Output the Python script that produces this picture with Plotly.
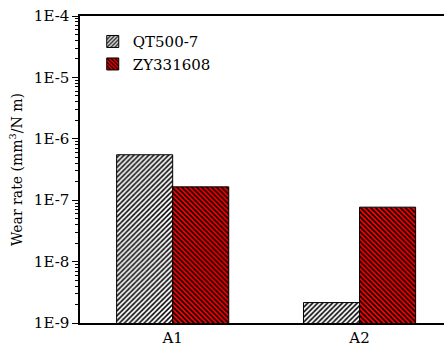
import plotly.graph_objects as go

categories = ["A1", "A2"]
qt500_7 = [5.5e-7, 2.15e-9]
zy331608 = [1.65e-7, 7.7e-8]
tick_vals = [1e-9, 1e-8, 1e-7, 1e-6, 1e-5, 1e-4]
tick_text = ["1E-9", "1E-8", "1E-7", "1E-6", "1E-5", "1E-4"]

FONT = "DejaVu Serif, Liberation Serif, serif"
SERIF = dict(family=FONT, size=15, color="black")

fig = go.Figure()
fig.add_trace(go.Bar(
    name="QT500-7", x=categories, y=qt500_7,
    marker=dict(color="white", line=dict(color="black", width=1),
                pattern=dict(shape="/", fgcolor="black", bgcolor="white",
                             size=3.5, solidity=0.45)),
))
fig.add_trace(go.Bar(
    name="ZY331608", x=categories, y=zy331608,
    marker=dict(color="#ff0000", line=dict(color="black", width=1),
                pattern=dict(shape="\\", fgcolor="black", bgcolor="#ff0000",
                             size=3.5, solidity=0.45)),
))

fig.update_layout(template="none")
fig.update_layout(
    width=444, height=352,
    margin=dict(l=80, r=0, t=16, b=29),
    barmode="group", bargap=0.4, bargroupgap=0,
    plot_bgcolor="white", paper_bgcolor="white",
    font=SERIF,
    showlegend=True,
    legend=dict(x=0.035, y=0.97, xanchor="left", yanchor="top",
                bgcolor="rgba(0,0,0,0)", font=SERIF),
)
fig.update_xaxes(range=[-0.496, 1.452], showline=True, linecolor="black",
                 linewidth=1.5, mirror=True, ticks="", showgrid=False,
                 zeroline=False, tickfont=SERIF)
fig.update_yaxes(type="log", range=[-9, -4], showline=True, linecolor="black",
                 linewidth=1.5, mirror=False, ticks="outside", ticklen=6,
                 tickwidth=1, tickcolor="black",
                 tickmode="array", tickvals=tick_vals, ticktext=tick_text,
                 showgrid=False, zeroline=False, tickfont=SERIF,
                 minor=dict(ticks="outside", ticklen=3, dtick="D1",
                            tickcolor="black", showgrid=False),
                 title=dict(text="Wear rate (mm<sup>3</sup>/N m)",
                            font=dict(family=FONT, size=14, color="black"),
                            standoff=8))

fig.write_html("out.html")
